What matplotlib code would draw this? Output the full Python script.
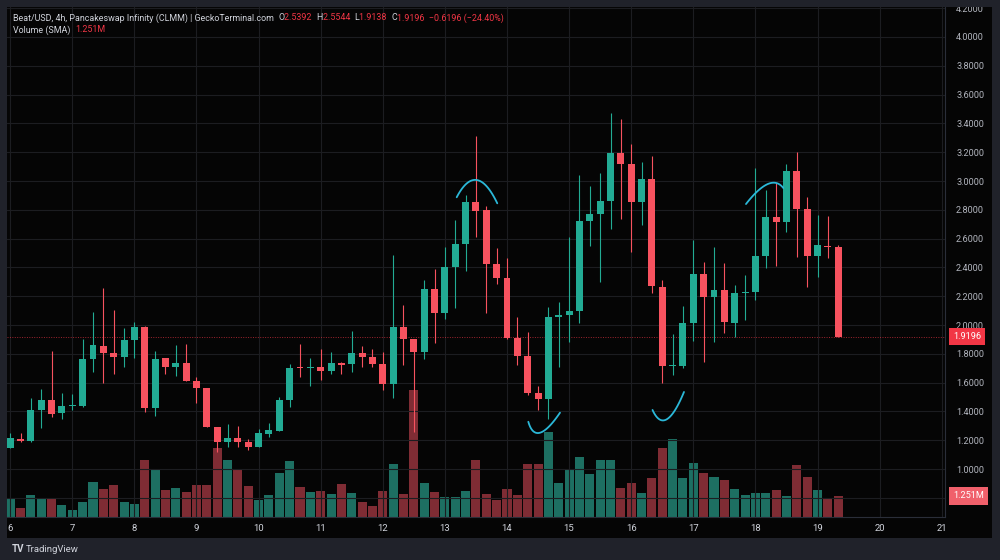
import numpy as np
import matplotlib.pyplot as plt
from matplotlib.patches import Rectangle
from matplotlib.transforms import blended_transform_factory

# --- dados (velas de 4h, Beat/USD) ---
opens = [1.148, 1.210, 1.194, 1.410, 1.479, 1.387, 1.436, 1.437, 1.762, 1.856,
         1.806, 1.780, 1.898, 1.988, 1.426, 1.769, 1.710, 1.738, 1.611, 1.5625,
         1.290, 1.1875, 1.213, 1.1875, 1.151, 1.245, 1.266, 1.479, 1.708, 1.701,
         1.708, 1.678, 1.736, 1.727, 1.808, 1.776, 1.731, 1.592, 1.988, 1.900,
         1.815, 2.248, 2.085, 2.405, 2.5625, 2.856, 2.800, 2.424, 2.324, 1.9076,
         1.785, 1.526, 1.484, 2.058, 2.067, 2.097, 2.724, 2.771, 2.863, 3.192,
         3.116, 2.852, 3.014, 2.266, 1.715, 1.717, 2.016, 2.354, 2.197, 2.243,
         2.016, 2.224, 2.229, 2.479, 2.748, 2.715, 3.071, 2.806, 2.479, 2.551,
         2.5392]
highs = [1.248, 1.252, 1.495, 1.553, 1.819, 1.530, 1.520, 1.900, 2.088, 2.255,
         2.104, 1.977, 2.023, 1.990, 1.819, 1.770, 1.859, 1.868, 1.641, 1.5625,
         1.290, 1.310, 1.300, 1.206, 1.276, 1.320, 1.500, 1.727, 1.868, 1.770,
         1.833, 1.815, 1.740, 1.958, 1.856, 1.831, 1.810, 2.486, 2.139, 1.900,
         2.3125, 2.387, 2.544, 2.729, 2.903, 3.315, 2.826, 2.533, 2.463, 2.058,
         1.953, 1.578, 2.123, 2.162, 2.613, 3.040, 2.965, 3.057, 3.474, 3.428,
         3.257, 3.132, 3.174, 2.3125, 1.935, 2.132, 2.590, 2.435, 2.544, 2.433,
         2.278, 2.347, 3.088, 2.9375, 2.984, 3.118, 3.203, 2.887, 2.764, 2.757,
         2.5544]
lows = [1.144, 1.190, 1.190, 1.287, 1.363, 1.350, 1.410, 1.430, 1.676, 1.595,
        1.660, 1.706, 1.769, 1.398, 1.370, 1.660, 1.648, 1.610, 1.460, 1.290,
        1.120, 1.155, 1.153, 1.130, 1.150, 1.224, 1.266, 1.433, 1.637, 1.576,
        1.618, 1.660, 1.660, 1.676, 1.706, 1.708, 1.550, 1.490, 1.722, 1.260,
        1.762, 1.873, 2.040, 2.116, 2.377, 2.613, 2.085, 2.285, 1.900, 1.722,
        1.514, 1.410, 1.345, 1.706, 1.884, 2.016, 2.550, 2.300, 2.665, 2.734,
        2.509, 2.694, 2.224, 1.599, 1.653, 1.700, 1.890, 1.741, 1.884, 1.942,
        1.918, 2.035, 2.174, 2.394, 2.410, 2.648, 2.470, 2.262, 2.331, 2.463,
        1.9138]
closes = [1.213, 1.196, 1.410, 1.479, 1.382, 1.437, 1.445, 1.762, 1.859, 1.806,
          1.778, 1.898, 1.988, 1.426, 1.766, 1.710, 1.738, 1.611, 1.5625, 1.290,
          1.185, 1.213, 1.1875, 1.151, 1.248, 1.271, 1.479, 1.703, 1.701, 1.708,
          1.678, 1.736, 1.725, 1.808, 1.776, 1.731, 1.592, 1.988, 1.900, 1.815,
          2.248, 2.085, 2.405, 2.5625, 2.856, 2.794, 2.424, 2.324, 1.9076, 1.785,
          1.526, 1.484, 2.058, 2.067, 2.097, 2.724, 2.771, 2.863, 3.192, 3.118,
          2.852, 3.014, 2.271, 1.717, 1.722, 2.016, 2.354, 2.197, 2.243, 2.019,
          2.224, 2.231, 2.479, 2.748, 2.715, 3.071, 2.806, 2.479, 2.556, 2.539,
          1.9196]
# volume em milhões
volumes = [1.09, 0.52, 1.29, 1.13, 1.09, 0.71, 0.43, 0.89, 2.10, 1.68,
           1.90, 0.91, 0.76, 3.39, 2.80, 1.59, 1.74, 1.47, 1.92, 1.92,
           4.13, 3.38, 2.82, 1.85, 1.03, 1.33, 2.60, 3.33, 1.79, 1.51,
           1.57, 1.35, 1.95, 1.45, 0.89, 0.65, 1.55, 3.14, 1.35, 7.54,
           2.04, 1.49, 1.19, 1.21, 1.55, 3.38, 1.35, 0.99, 1.65, 1.29,
           3.14, 3.17, 5.06, 2.04, 2.84, 3.57, 2.58, 3.38, 3.41, 1.74,
           2.01, 1.41, 2.30, 4.11, 4.63, 2.34, 3.20, 2.64, 2.36, 2.20,
           1.67, 1.33, 1.41, 1.41, 1.61, 1.25, 3.08, 2.38, 1.59, 1.05,
           1.251]
day_labels = ['6', '7', '8', '9', '10', '11', '12', '13', '14', '15',
              '16', '17', '18', '19', '20', '21']
price_ticks = [0.8, 1.0, 1.2, 1.4, 1.6, 1.8, 2.0, 2.2, 2.4, 2.6, 2.8,
               3.0, 3.2, 3.4, 3.6, 3.8, 4.0, 4.2]
# anotações à mão (índice da vela, preço): início, meio, fim
arcs = [
    [(43.14, 2.887), (45.07, 3.007), (47.06, 2.845)],
    [(50.06, 1.328), (51.19, 1.252), (53.12, 1.391)],
    [(62.06, 1.410), (63.43, 1.345), (65.10, 1.535)],
    [(71.09, 2.840), (73.20, 2.979), (74.70, 2.951)],
]

UP, DOWN = '#22ab94', '#f7525f'
VUP, VDOWN = '#1d6f62', '#7f2c34'
TXT, TXT_AX, RED = '#d1d4dc', '#b2b5be', '#f23645'
FRAME = '#20222a'
FONT = 'Roboto'

W, H = 1000, 560
fig = plt.figure(figsize=(10, 5.6), dpi=100, facecolor=FRAME)
fig.add_artist(Rectangle((7 / W, 1 - 538 / H), 985 / W, 531 / H,
                         transform=fig.transFigure, fc='#050505', ec='none', zorder=-1))

rect = [7 / W, 1 - 517 / H, (945 - 7) / W, (517 - 7) / H]
axv = fig.add_axes(rect)
ax = fig.add_axes(rect, sharex=axv)
axv.set_facecolor('#050505')
ax.patch.set_visible(False)

o = np.array(opens); h = np.array(highs); l = np.array(lows); c = np.array(closes)
v = np.array(volumes)
t = np.arange(len(o)) / 6.0
up = c >= o

# volume
axv.bar(t, v, width=0.145, color=np.where(up, VUP, VDOWN), linewidth=0)
axv.set_ylim(0, 30.36)
axv.set_yticks([])
for s in axv.spines.values():
    s.set_visible(False)

# velas
cols = np.where(up, UP, DOWN)
ax.vlines(t, l, h, colors=cols, linewidth=0.8, zorder=3)
body = np.maximum(np.abs(c - o), 0.006)
ax.bar(t, body, bottom=np.minimum(o, c), width=0.112, color=cols, linewidth=0, zorder=4)

# linha do último preço
ax.axhline(c[-1], color=RED, lw=0.7, ls=(0, (1, 1.5)), alpha=0.65, zorder=2)

# arcos de anotação (bezier quadrática passando pelo ponto do meio)
for p0, pm, p2 in arcs:
    p0 = np.array([p0[0] / 6, p0[1]]); pm = np.array([pm[0] / 6, pm[1]])
    p2 = np.array([p2[0] / 6, p2[1]])
    ctrl = 2 * pm - (p0 + p2) / 2
    s = np.linspace(0, 1, 60)[:, None]
    pts = (1 - s) ** 2 * p0 + 2 * (1 - s) * s * ctrl + s ** 2 * p2
    ax.plot(pts[:, 0], pts[:, 1], color='#2bb8d8', lw=1.3, zorder=6, solid_capstyle='round')

ax.set_xlim((7 - 10.2) / 62.1, (945 - 10.2) / 62.1)
ax.set_ylim(1 - (517 - 469) / 144, 1 + (469 - 7) / 144)

ax.set_xticks(range(len(day_labels)))
ax.set_xticklabels(day_labels, family=FONT)
ax.yaxis.tick_right()
ax.set_yticks(price_ticks)
# o rótulo 0.8000 fica escondido atrás da caixa do volume
ax.set_yticklabels(['' if p < 1 else f'{p:.4f}' for p in price_ticks], family=FONT)
ax.tick_params(axis='x', length=0, pad=5, labelcolor=TXT, labelsize=6.8)
ax.tick_params(axis='y', length=0, pad=8, labelcolor=TXT_AX, labelsize=6.6)
ax.grid(True, color='#1c1d21', lw=0.8, zorder=0)
axv.tick_params(axis='x', length=0, labelbottom=False)
for name, s in ax.spines.items():
    s.set_visible(name in ('bottom', 'right'))
    s.set_color('#2a2e39')
    s.set_linewidth(0.8)

# caixas de preço/volume no eixo
tr_p = blended_transform_factory(ax.transAxes, ax.transData)
ax.text(1.0085, c[-1], f'{c[-1]:.4f}', transform=tr_p, color='white', fontsize=6.6,
        family=FONT, va='center', ha='left', zorder=10, clip_on=False,
        bbox=dict(boxstyle='square,pad=0.45', fc=RED, ec='none'))
tr_v = blended_transform_factory(ax.transAxes, axv.transData)
ax.text(1.0085, v[-1], f'{v[-1]:.3f}M', transform=tr_v, color='white', fontsize=6.6,
        family=FONT, va='center', ha='left', zorder=10, clip_on=False,
        bbox=dict(boxstyle='square,pad=0.45', fc='#f0606b', ec='none'))

# moldura por cima (corta o 4.2000 do topo)
fig.add_artist(Rectangle((0, 1 - 7 / H), 1, 7 / H, transform=fig.transFigure,
                         fc=FRAME, ec='none', zorder=20))

# cabeçalho
renderer = fig.canvas.get_renderer()


def write_row(y, parts, size=6.4):
    x = 13
    for s, col in parts:
        tx = fig.text(x / W, 1 - y / H, s, color=col, fontsize=size, family=FONT,
                      va='center', ha='left', zorder=30)
        x += tx.get_window_extent(renderer).width


chg = c[-1] - o[-1]
pct = chg / o[-1] * 100
write_row(18, [('Beat/USD, 4h, Pancakeswap Infinity (CLMM) | GeckoTerminal.com  ', TXT),
               ('O', TXT), (f'{o[-1]:.4f}  ', RED), ('H', TXT), (f'{h[-1]:.4f}  ', RED),
               ('L', TXT), (f'{l[-1]:.4f}  ', RED), ('C', TXT),
               (f'{c[-1]:.4f}  \u2212{abs(chg):.4f} (\u2212{abs(pct):.2f}%)', RED)])
write_row(30, [('Volume (SMA)  ', TXT), (f'{v[-1]:.3f}M', RED)])

# rodapé
fig.text(12 / W, 1 - 549 / H, 'TV', color=TXT, fontsize=7, fontweight='bold',
         family=FONT, va='center', ha='left')
fig.text(26 / W, 1 - 549 / H, 'TradingView', color=TXT, fontsize=6.8,
         family=FONT, va='center', ha='left')

fig.savefig('out.png', dpi=100, facecolor=FRAME)
